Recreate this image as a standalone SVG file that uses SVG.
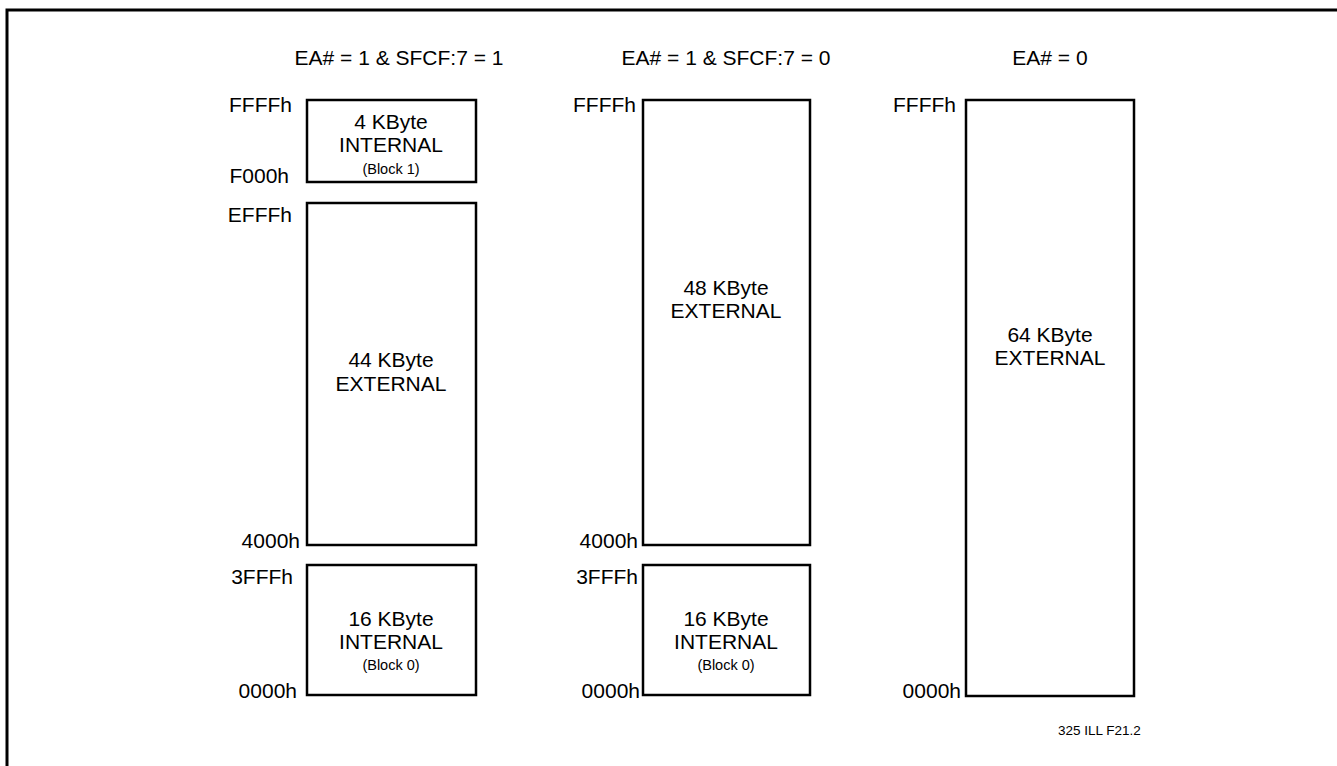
<svg xmlns="http://www.w3.org/2000/svg" width="1337" height="766" viewBox="0 0 1337 766">
<style>
.box{fill:#fff;stroke:#000;stroke-width:2.5}
.t{font-family:"Liberation Sans",Arial,sans-serif;font-size:21px;fill:#000}
.c{text-anchor:middle}
.r{text-anchor:end}
.s{font-size:14.5px}
</style>
<rect width="1337" height="766" fill="#fff"/>
<path d="M7,800 V10 H1340" fill="none" stroke="#000" stroke-width="3"/>
<g id="headers">
<text class="t c" x="399" y="65">EA# = 1 &amp; SFCF:7 = 1</text>
<text class="t c" x="726" y="65">EA# = 1 &amp; SFCF:7 = 0</text>
<text class="t c" x="1050" y="65">EA# = 0</text>
</g>
<g id="col1-block1">
<rect class="box" x="307" y="100" width="169" height="82"/>
<text class="t c" x="391" y="129">4 KByte</text>
<text class="t c" x="391" y="152">INTERNAL</text>
<text class="t c s" x="391" y="174">(Block 1)</text>
<text class="t r" x="292" y="112">FFFFh</text>
<text class="t r" x="289" y="183">F000h</text>
</g>
<g id="col1-ext">
<rect class="box" x="307" y="203" width="169" height="342"/>
<text class="t c" x="391" y="367">44 KByte</text>
<text class="t c" x="391" y="391">EXTERNAL</text>
<text class="t r" x="292" y="222">EFFFh</text>
<text class="t r" x="300" y="548">4000h</text>
</g>
<g id="col1-block0">
<rect class="box" x="307" y="565" width="169" height="130"/>
<text class="t c" x="391" y="626">16 KByte</text>
<text class="t c" x="391" y="649">INTERNAL</text>
<text class="t c s" x="391" y="670">(Block 0)</text>
<text class="t r" x="293" y="584">3FFFh</text>
<text class="t r" x="297" y="698">0000h</text>
</g>
<g id="col2-ext">
<rect class="box" x="643" y="100" width="167" height="445"/>
<text class="t c" x="726" y="295">48 KByte</text>
<text class="t c" x="726" y="318">EXTERNAL</text>
<text class="t r" x="636" y="112">FFFFh</text>
<text class="t r" x="638" y="548">4000h</text>
</g>
<g id="col2-block0">
<rect class="box" x="643" y="565" width="167" height="130"/>
<text class="t c" x="726" y="626">16 KByte</text>
<text class="t c" x="726" y="649">INTERNAL</text>
<text class="t c s" x="726" y="670">(Block 0)</text>
<text class="t r" x="638" y="584">3FFFh</text>
<text class="t r" x="640" y="698">0000h</text>
</g>
<g id="col3-ext">
<rect class="box" x="966" y="100" width="168" height="596"/>
<text class="t c" x="1050" y="342">64 KByte</text>
<text class="t c" x="1050" y="365">EXTERNAL</text>
<text class="t r" x="956" y="112">FFFFh</text>
<text class="t r" x="961" y="698">0000h</text>
</g>
<g id="connectors"></g>
<text class="t" x="1058" y="735" style="font-size:13.5px">325 ILL F21.2</text>
</svg>
